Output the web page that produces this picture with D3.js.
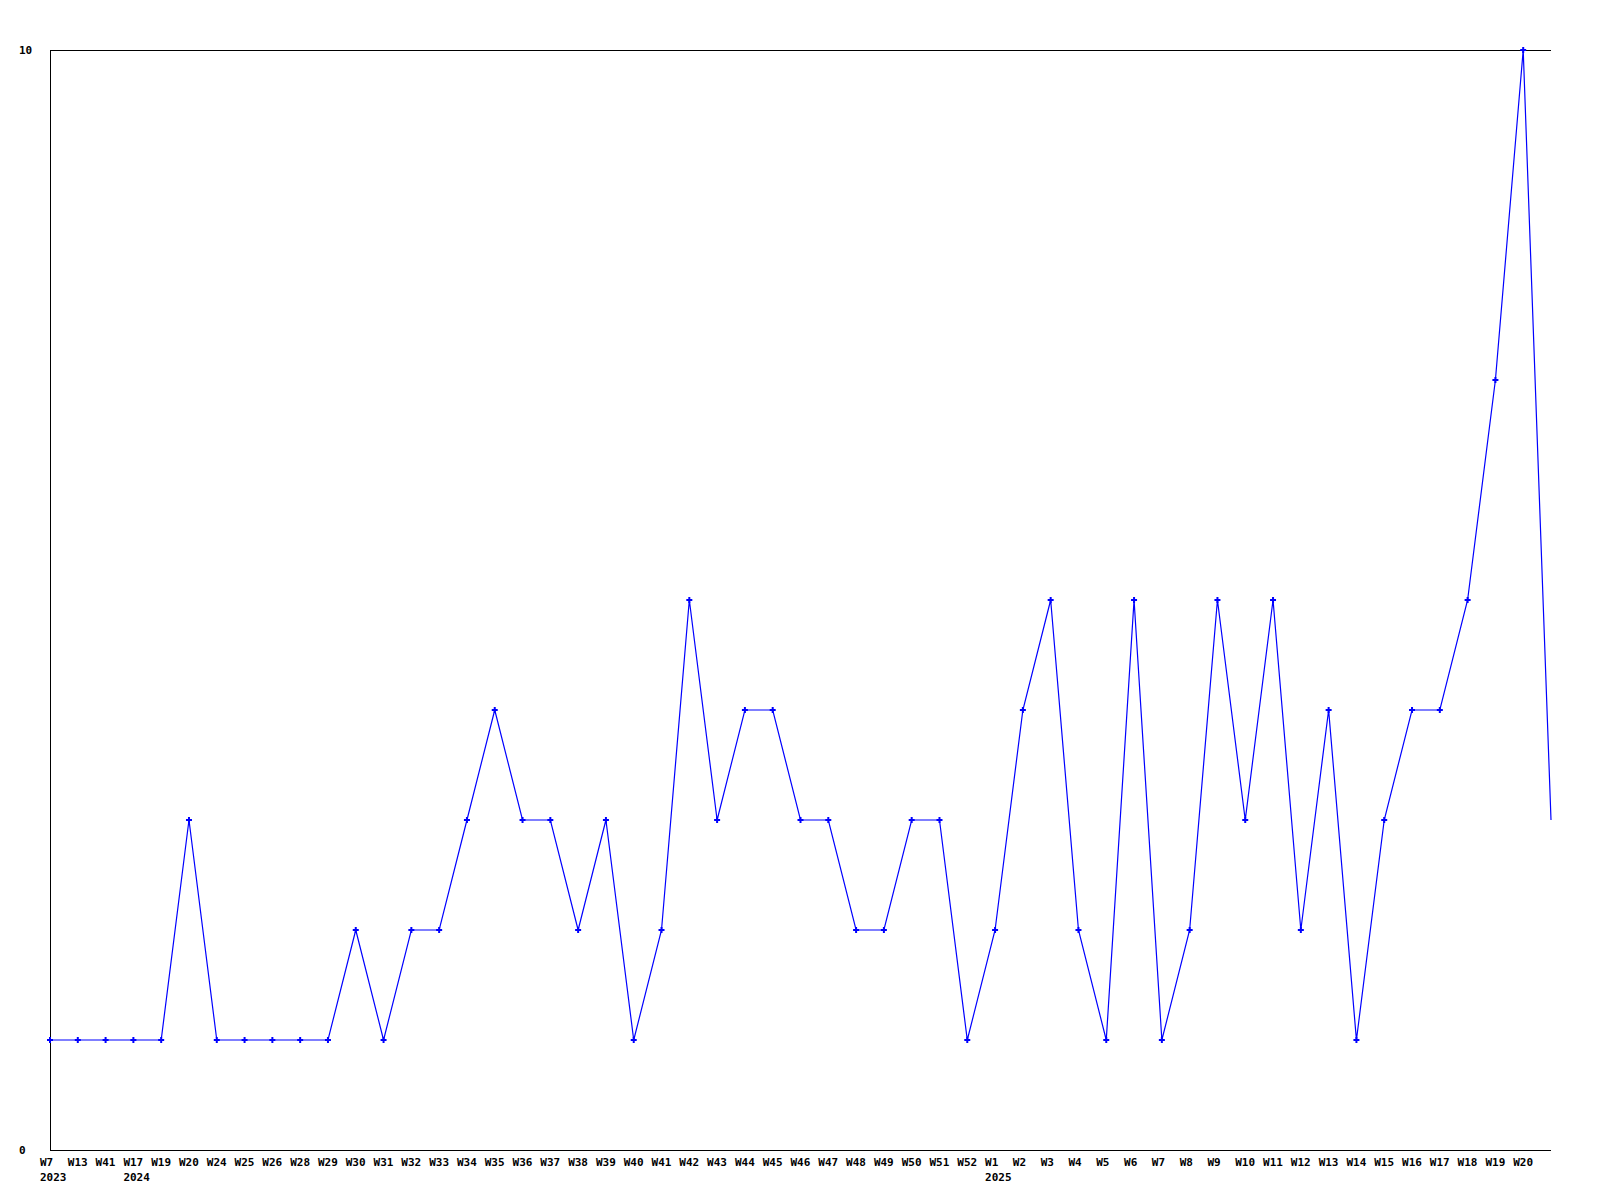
<!DOCTYPE html>
<html>
<head>
<meta charset="utf-8">
<script src="https://cdn.jsdelivr.net/npm/d3@7"></script>
<style>
  html, body { margin: 0; padding: 0; background: #fff; }
  svg { display: block; }
  text { font-family: "DejaVu Sans Mono", "Liberation Mono", monospace; font-weight: bold; font-size: 11px; fill: #000; }
</style>
</head>
<body>
<svg id="chart" width="1600" height="1200"></svg>
<script>
// Week labels (last point is a partial week with no label)
const weekLabels = [
  "W7","W13","W41",
  "W17","W19","W20","W24","W25","W26","W28","W29","W30","W31","W32","W33","W34","W35","W36","W37","W38","W39","W40","W41","W42","W43","W44","W45","W46","W47","W48","W49","W50","W51","W52",
  "W1","W2","W3","W4","W5","W6","W7","W8","W9","W10","W11","W12","W13","W14","W15","W16","W17","W18","W19","W20",
  ""
];
// Year labels placed under the first week of each year
const yearLabels = ["2023","","", "2024"].concat(new Array(30).fill(""), ["2025"], new Array(20).fill(""));
const values = [
  1,1,1,
  1,1,3,1,1,1,1,1,2,1,2,2,3,4,3,3,2,3,1,2,5,3,4,4,3,3,2,2,3,3,1,
  2,4,5,2,1,5,1,2,5,3,5,2,4,1,3,4,4,5,7,10,
  3
];
const hasMarker = values.map((v, i) => i < values.length - 1);
const yTicks = [0, 10];

const svg = d3.select("#chart");
const mLeft = 50, mRight = 1551, mTop = 50, mBottom = 1150;

const x = d3.scaleLinear().domain([0, values.length - 1]).range([mLeft, mRight]);
const y = d3.scaleLinear().domain([0, 10]).range([mBottom, mTop]);

// Frame: left, top, bottom lines
svg.append("line").attr("x1", mLeft + 0.5).attr("x2", mLeft + 0.5).attr("y1", mTop).attr("y2", mBottom + 0.5)
  .attr("stroke", "#000").attr("stroke-width", 1);
svg.append("line").attr("x1", mLeft).attr("x2", mRight).attr("y1", mTop + 0.5).attr("y2", mTop + 0.5)
  .attr("stroke", "#000").attr("stroke-width", 1);
svg.append("line").attr("x1", mLeft).attr("x2", mRight).attr("y1", mBottom + 0.5).attr("y2", mBottom + 0.5)
  .attr("stroke", "#000").attr("stroke-width", 1);

// Y tick labels
svg.selectAll("text.ylab").data(yTicks).enter().append("text")
  .attr("class", "ylab")
  .attr("x", 19)
  .attr("y", d => y(d))
  .attr("dy", "0.35em")
  .text(d => d);

// X labels
svg.selectAll("text.xlab").data(weekLabels).enter().append("text")
  .attr("class", "xlab")
  .attr("x", (d, i) => x(i) - 10)
  .attr("y", 1166)
  .text(d => d);
svg.selectAll("text.yrlab").data(yearLabels).enter().append("text")
  .attr("class", "yrlab")
  .attr("x", (d, i) => x(i) - 10)
  .attr("y", 1181)
  .text(d => d);

// Line
const line = d3.line().x((d, i) => x(i)).y(d => y(d));
svg.append("path").datum(values)
  .attr("d", line)
  .attr("fill", "none")
  .attr("stroke", "#0000ff")
  .attr("stroke-width", 1.2);

// Markers
const sym = d3.symbol().type(d3.symbolCross).size(20);
svg.selectAll("path.mk").data(values.map((v, i) => ({v, i})).filter(d => hasMarker[d.i]))
  .enter().append("path")
  .attr("class", "mk")
  .attr("transform", d => `translate(${x(d.i)},${y(d.v)})`)
  .attr("d", sym)
  .attr("fill", "#0000ff");
</script>
</body>
</html>
